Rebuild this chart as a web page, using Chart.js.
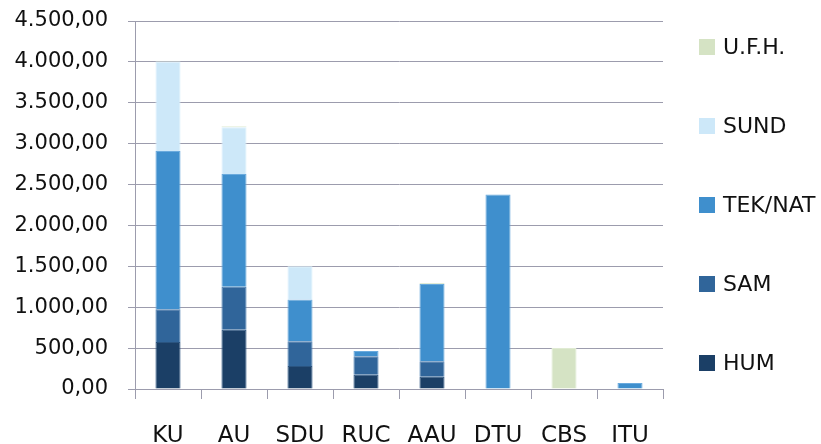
<!DOCTYPE html>
<html>
<head>
<meta charset="utf-8">
<script src="https://cdn.jsdelivr.net/npm/chart.js@4/dist/chart.umd.min.js"></script>
<style>
  body { margin: 0; background: #fff; }
  #wrap { position: relative; width: 821px; height: 444px; }
  #legend { position: absolute; left: 699px; top: 8px; margin: 0; padding: 0; list-style: none;
            font-family: "DejaVu Sans", sans-serif; font-size: 22px; color: #111; }
  #legend li { height: 79px; display: flex; align-items: flex-start; }
  #legend li span.box { width: 16px; height: 16px; margin-top: 31px; margin-right: 8px; }
  #legend li span.txt { line-height: 22px; margin-top: 28px; }
</style>
</head>
<body>
<div id="wrap">
  <canvas id="myChart"></canvas>
  <ul id="legend"></ul>
</div>
<script>
const categories = ['KU', 'AU', 'SDU', 'RUC', 'AAU', 'DTU', 'CBS', 'ITU'];
const hum    = [575, 725, 280, 175, 150, null, null, null];
const sam    = [400, 525, 305, 225, 190, null, null, null];
const tekNat = [1935, 1380, 510, 65, 945, 2378, null, 72];
const sund   = [1095, 570, 405, null, null, null, null, null];
const ufh    = [10, 12, 6, null, 12, null, 500, null];

// Danish number format: 4.500,00
function formatDa(v) {
    const parts = v.toFixed(2).split('.');
    parts[0] = parts[0].replace(/\B(?=(\d{3})+(?!\d))/g, '.');
    return parts.join(',');
}

const gridColor = '#9c9cad';

const htmlLegend = {
    id: 'htmlLegend',
    afterUpdate(chart) {
        const ul = document.getElementById('legend');
        ul.innerHTML = '';
        const items = chart.options.plugins.legend.labels.generateLabels(chart).reverse();
        items.forEach(item => {
            const li = document.createElement('li');
            const box = document.createElement('span');
            box.className = 'box';
            box.style.background = item.fillStyle;
            const txt = document.createElement('span');
            txt.className = 'txt';
            txt.textContent = item.text;
            li.appendChild(box);
            li.appendChild(txt);
            ul.appendChild(li);
        });
    }
};

let chart = document.getElementById('myChart').getContext('2d');

let myChart = new Chart(chart, {
    type: 'bar',
    data: {
        labels: categories,
        datasets: [
            { label: 'HUM', data: hum, backgroundColor: '#1b3f66', borderColor: '#2a5480' },
            { label: 'SAM', data: sam, backgroundColor: '#30659a', borderColor: '#4a7db0' },
            { label: 'TEK/NAT', data: tekNat, backgroundColor: '#3f8fcd', borderColor: '#6aaadd' },
            { label: 'SUND', data: sund, backgroundColor: '#cde8f9', borderColor: '#dcf0fc' },
            { label: 'U.F.H.', data: ufh, backgroundColor: '#d5e3c4', borderColor: '#e0ebd3' }
        ]
    },
    options: {
        responsive: true,
        maintainAspectRatio: false,
        animation: false,
        datasets: {
            bar: { barPercentage: 0.38, categoryPercentage: 1, borderWidth: 1 }
        },
        layout: { padding: { top: 21, right: 158, bottom: 0, left: 0 } },
        plugins: {
            legend: { display: false },
            tooltip: { enabled: false }
        },
        scales: {
            x: {
                stacked: true,
                grid: { drawOnChartArea: false, drawTicks: true, tickLength: 10, color: gridColor },
                border: { color: gridColor },
                ticks: {
                    color: '#111',
                    padding: 26,
                    font: { family: 'DejaVu Sans', size: 23, lineHeight: 1 }
                },
                afterFit(scale) { scale.height = 55; }
            },
            y: {
                stacked: true,
                min: 0,
                max: 4500,
                grid: { color: gridColor, tickLength: 7 },
                border: { color: gridColor },
                ticks: {
                    stepSize: 500,
                    color: '#111',
                    padding: 20,
                    font: { family: 'DejaVu Sans', size: 21 },
                    callback: v => formatDa(v)
                },
                afterFit(scale) {
                    scale.width = 135;
                    scale.paddingTop = 0;
                    scale.paddingBottom = 0;
                }
            }
        }
    },
    plugins: [htmlLegend]
});
</script>
</body>
</html>
